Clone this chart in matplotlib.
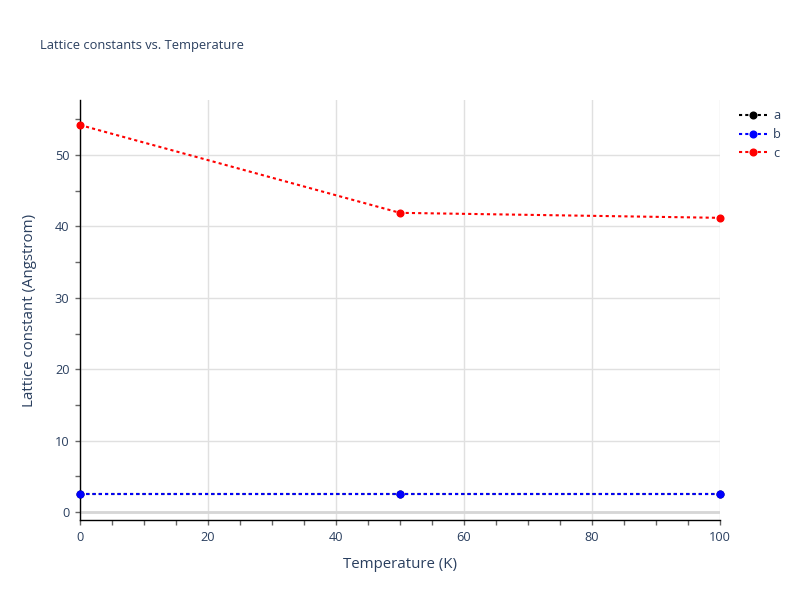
import matplotlib
matplotlib.use("Agg")
import matplotlib.pyplot as plt
from matplotlib.ticker import MultipleLocator

plt.rcParams['font.family'] = ['Open Sans', 'DejaVu Sans']

temperature = [0, 50, 100]
a_values = [2.46, 2.46, 2.46]
b_values = [2.46, 2.46, 2.46]
c_values = [54.2, 41.9, 41.2]
series_names = ["a", "b", "c"]
series_colors = ["black", "blue", "red"]

txt = "#2a3f5f"
fig = plt.figure(figsize=(8, 6), dpi=100)
ax = fig.add_axes([0.1, 0.1333, 0.8, 0.70])

for vals, name, col in zip([a_values, b_values, c_values], series_names, series_colors):
    ax.plot(temperature, vals, linestyle=(0, (1.5, 1.5)), linewidth=1.5, color=col,
            marker='o', markersize=4.8, label=name, clip_on=False, zorder=3)

ax.set_xlim(0, 100)
ax.set_ylim(-1.12, 57.7)
ax.xaxis.set_major_locator(MultipleLocator(20))
ax.xaxis.set_minor_locator(MultipleLocator(5))
ax.yaxis.set_major_locator(MultipleLocator(10))
ax.yaxis.set_minor_locator(MultipleLocator(5))
ax.grid(True, which='major', color='#e0e0e0', linewidth=1)
ax.set_axisbelow(True)
ax.axhline(0, color='#d6d6d6', linewidth=2, zorder=1)

for s in ['top', 'right']:
    ax.spines[s].set_visible(False)
for s in ['left', 'bottom']:
    ax.spines[s].set_color('black')
    ax.spines[s].set_linewidth(1)

ax.tick_params(which='both', direction='out', color='#666666', labelcolor=txt, labelsize=9.2)
ax.tick_params(which='major', length=3.6, width=1, pad=4)
ax.tick_params(which='minor', length=3.6, width=1)

ax.set_xlabel("Temperature (K)", color=txt, fontsize=10.8, labelpad=9.5)
ax.set_ylabel("Lattice constant (Angstrom)", color=txt, fontsize=10.8, labelpad=12.5)

fig.text(0.05, 0.925, "Lattice constants vs. Temperature", color=txt, fontsize=9.3, va='center', ha='left')

leg = ax.legend(loc='upper left', bbox_to_anchor=(1.021, 0.99), frameon=False,
                fontsize=9.2, handlelength=2.2, labelspacing=0.45, borderaxespad=0.0,
                handletextpad=0.5)
for t in leg.get_texts():
    t.set_color(txt)

fig.savefig("out.png", dpi=100)
